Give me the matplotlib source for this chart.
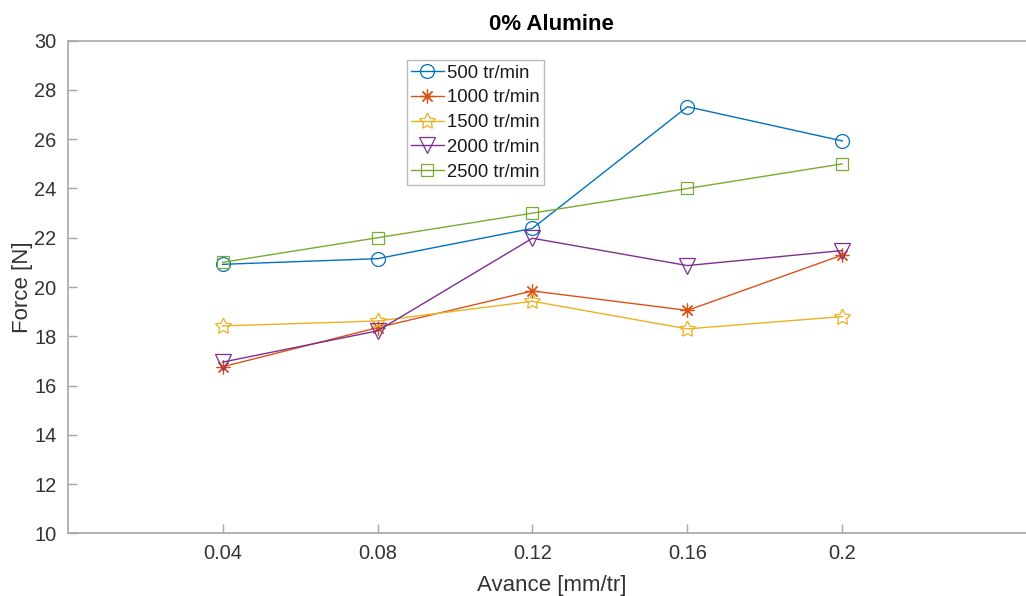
import matplotlib
matplotlib.use("Agg")
import matplotlib.pyplot as plt

plt.rcParams['font.family'] = ['Liberation Sans', 'DejaVu Sans']

avance = [0.04, 0.08, 0.12, 0.16, 0.2]
xtick_labels = ['0.04', '0.08', '0.12', '0.16', '0.2']
labels = ['500 tr/min', '1000 tr/min', '1500 tr/min', '2000 tr/min', '2500 tr/min']
force_500 = [20.92, 21.15, 22.38, 27.32, 25.93]
force_1000 = [16.76, 18.35, 19.84, 19.05, 21.30]
force_1500 = [18.42, 18.62, 19.42, 18.30, 18.80]
force_2000 = [16.95, 18.22, 21.98, 20.87, 21.48]
force_2500 = [21.0, 22.0, 23.0, 24.0, 25.0]
yticks = [10, 12, 14, 16, 18, 20, 22, 24, 26, 28, 30]

colors = ['#0072BD', '#D95319', '#EDB120', '#7E2F8E', '#77AC30']
markers = ['o', (8, 2, 0), (5, 1, 0), 'v', 's']
msizes = [10, 10, 12, 12, 8]

fig = plt.figure(figsize=(10.26, 5.96), dpi=100)
ax = fig.add_axes([0.0659, 0.1052, 0.9439, 0.8265])

series = [force_500, force_1000, force_1500, force_2000, force_2500]
for i, ys in enumerate(series):
    ax.plot(avance, ys, color=colors[i], marker=markers[i], markersize=msizes[i],
            markerfacecolor='none', markeredgecolor=colors[i],
            markeredgewidth=0.9, linewidth=1.0, label=labels[i])

ax.set_xlim(0, 0.25)
ax.set_ylim(10, 30)
ax.set_xticks(avance)
ax.set_xticklabels(xtick_labels)
ax.set_yticks(yticks)

spine_col = '#A6A6A6'
for s in ['left', 'bottom', 'top']:
    ax.spines[s].set_color(spine_col)
    ax.spines[s].set_linewidth(1.2)
ax.spines['right'].set_visible(False)
ax.tick_params(direction='in', length=6.5, width=1.0, color=spine_col,
               labelsize=14.4, labelcolor='#333333', pad=8)

ax.set_title('0% Alumine', fontsize=16, fontweight='bold', color='#000000', pad=8)
ax.set_xlabel('Avance [mm/tr]', fontsize=16, color='#333333', labelpad=8)
ax.set_ylabel('Force [N]', fontsize=16, color='#333333', labelpad=1)

leg = ax.legend(loc='upper left', bbox_to_anchor=(0.350, 0.961), borderaxespad=0,
                fontsize=13.3, frameon=True, fancybox=False, handlelength=1.75,
                handletextpad=0.2, labelspacing=0.42, borderpad=0.25)
leg.get_frame().set_edgecolor('#ABABAB')
leg.get_frame().set_linewidth(1.0)
for t in leg.get_texts():
    t.set_color('#1A1A1A')

fig.savefig('out.png', dpi=100)
